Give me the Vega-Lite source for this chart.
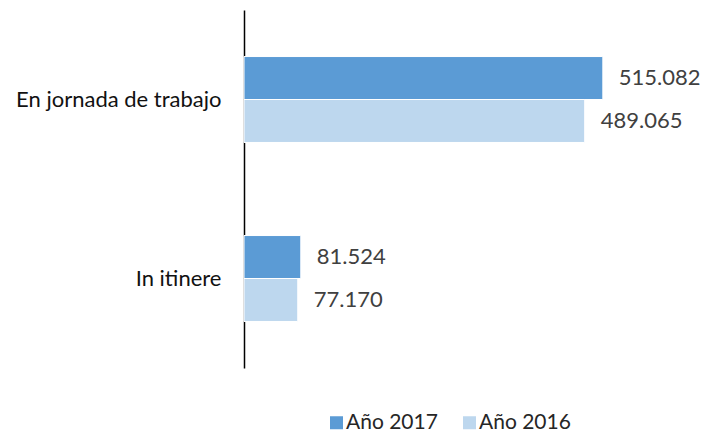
{
  "$schema": "https://vega.github.io/schema/vega-lite/v6.json",
  "autosize": "none",
  "width": 418,
  "height": 358,
  "padding": {"left": 244, "top": 10, "right": 39, "bottom": 64},
  "background": "white",
  "config": {
    "view": {"stroke": null},
    "font": "Lato",
    "locale": {"number": {"decimal": ",", "thousands": ".", "grouping": [3], "currency": ["", " €"]}}
  },
  "data": {
    "values": [
      {"tipo": "En jornada de trabajo", "serie": "Año 2017", "valor": 515082},
      {"tipo": "En jornada de trabajo", "serie": "Año 2016", "valor": 489065},
      {"tipo": "In itinere", "serie": "Año 2017", "valor": 81524},
      {"tipo": "In itinere", "serie": "Año 2016", "valor": 77170}
    ]
  },
  "encoding": {
    "y": {
      "field": "tipo", "type": "nominal", "sort": ["En jornada de trabajo", "In itinere"],
      "scale": {"paddingInner": 0.52, "paddingOuter": 0.26},
      "axis": {"title": null, "ticks": false, "domainColor": "#000000", "domainWidth": 1.5, "labelFontSize": 22, "labelColor": "#111111", "labelPadding": 23, "labelLimit": 400, "labelFont": "Lato"}
    },
    "yOffset": {"field": "serie", "type": "nominal", "sort": ["Año 2017", "Año 2016"]},
    "x": {"field": "valor", "type": "quantitative", "scale": {"domain": [0, 600000]}, "axis": null}
  },
  "layer": [
    {
      "mark": {"type": "bar", "stroke": "white", "strokeWidth": 1},
      "encoding": {
        "color": {
          "field": "serie", "type": "nominal",
          "scale": {"domain": ["Año 2017", "Año 2016"], "range": ["#5B9BD5", "#BDD7EE"]},
          "legend": {"title": null, "orient": "none", "legendX": 82, "legendY": 402, "direction": "horizontal", "symbolType": "square", "symbolSize": 169, "symbolStrokeWidth": 0, "labelFontSize": 21, "labelColor": "#262626", "columnPadding": 21, "labelOffset": -1}
        }
      }
    },
    {
      "mark": {"type": "text", "align": "left", "dx": 16, "fontSize": 22, "color": "#404040"},
      "encoding": {"text": {"field": "valor", "type": "quantitative", "format": ",d"}}
    }
  ]
}
